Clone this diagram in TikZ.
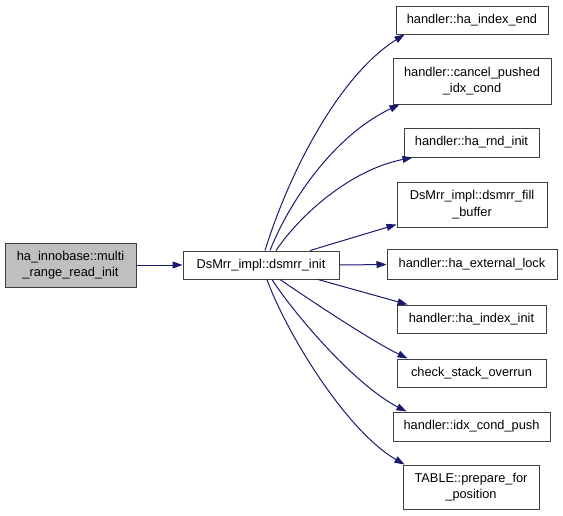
\documentclass[tikz,border=0pt]{standalone}
\usepackage{fontspec}
\setmainfont{Liberation Sans}
\usetikzlibrary{arrows.meta}
\usetikzlibrary{positioning}

\definecolor{midnight}{HTML}{191970}

\tikzset{
  fnbox/.style={draw=black!75, line width=1pt, fill=white, align=center, inner sep=0pt,
    font=\fontsize{12.8}{16.5}\selectfont},
  callee/.style={draw=midnight, line width=1pt, -{Triangle[length=10pt,width=7pt,fill=midnight]}},
}

\begin{document}
\begin{tikzpicture}[x=1pt, y=-1pt]
        \useasboundingbox (0,0) rectangle (563,515);

        \node[fnbox, fill=black!25, minimum width=131, minimum height=44] (caller) at (70.5,265) {ha\_innobase::multi\\\_range\_read\_init};
        \node[fnbox, minimum width=156, minimum height=28] (dsmrr) at (261,265) {DsMrr\_impl::dsmrr\_init};

        \node[fnbox, minimum width=152, minimum height=28] (idxend) at (472,20) {handler::ha\_index\_end};
        \node[fnbox, minimum width=158, minimum height=46] (cancel) at (472,81) {handler::cancel\_pushed\\\_idx\_cond};
        \node[fnbox, minimum width=135, minimum height=29] (rndinit) at (471.5,142.5) {handler::ha\_rnd\_init};
        \node[fnbox, minimum width=150, minimum height=45] (fillbuf) at (472,204.5) {DsMrr\_impl::dsmrr\_fill\\\_buffer};
        \node[fnbox, minimum width=170, minimum height=30] (extlock) at (472,264.5) {handler::ha\_external\_lock};
        \node[fnbox, minimum width=149, minimum height=28] (idxinit) at (471.5,319) {handler::ha\_index\_init};
        \node[fnbox, minimum width=149, minimum height=28] (stack) at (471.5,373) {check\_stack\_overrun};
        \node[fnbox, minimum width=157, minimum height=29] (condpush) at (471.5,426.5) {handler::idx\_cond\_push};
        \node[fnbox, minimum width=136, minimum height=44] (prepare) at (471,487) {TABLE::prepare\_for\\\_position};

        \draw[callee] (caller.east) -- (dsmrr.west);

        % calls above the main node
        \draw[callee] ([xshift=4]dsmrr.north) .. controls (290,170) and (340,75) .. ([xshift=9]idxend.south west);
        \draw[callee] ([xshift=9]dsmrr.north) .. controls (290,200) and (335,135) .. ([xshift=7]cancel.south west);
        \draw[callee] ([xshift=15]dsmrr.north) .. controls (300,215) and (350,170) .. ([xshift=9]rndinit.south west);
        \draw[callee] ([xshift=49]dsmrr.north) -- ([yshift=3]fillbuf.south west);

        \draw[callee] (dsmrr.east) -- (extlock.west);

        % calls below the main node
        \draw[callee] ([xshift=57]dsmrr.south) -- ([xshift=11]idxinit.north west);
        \draw[callee] ([xshift=19]dsmrr.south) .. controls (310,300) and (370,340) .. ([xshift=11]stack.north west);
        \draw[callee] ([xshift=11]dsmrr.south) .. controls (295,315) and (355,385) .. ([xshift=14]condpush.north west);
        \draw[callee] ([xshift=6]dsmrr.south) .. controls (285,330) and (345,430) .. ([xshift=2]prepare.north west);
    \end{tikzpicture}
\end{document}
